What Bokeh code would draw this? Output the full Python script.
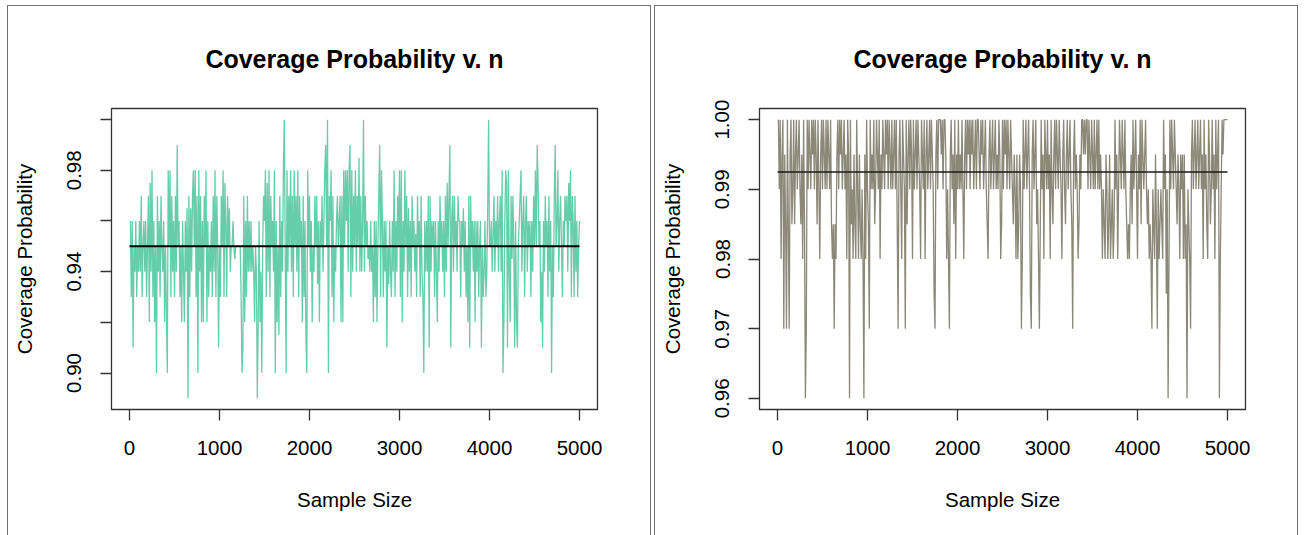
from bokeh.plotting import figure
from bokeh.layouts import row
from bokeh.models import Range1d, FixedTicker
from bokeh.embed import file_html
from bokeh.resources import INLINE

title_text = "Coverage Probability v. n"
x_label = "Sample Size"
y_label = "Coverage Probability"
x_ticks = [0, 1000, 2000, 3000, 4000, 5000]
left_y_ticks = [0.90, 0.92, 0.94, 0.96, 0.98, 1.00]
left_y_labels = {0.90: "0.90", 0.92: "", 0.94: "0.94", 0.96: "", 0.98: "0.98", 1.00: ""}
right_y_ticks = [0.96, 0.97, 0.98, 0.99, 1.00]
right_y_labels = {0.96: "0.96", 0.97: "0.97", 0.98: "0.98", 0.99: "0.99", 1.00: "1.00"}

# left panel: coverage probability (percent), n = 10, 20, ..., 5000
left_cov_pct = [
    96, 93, 96, 91, 95, 94, 96, 93, 95, 94,
    96, 94, 97, 93, 95, 96, 94, 96, 93, 95,
    97, 92, 97.5, 94, 98, 93, 96, 92, 95, 90,
    97, 94, 96, 93, 97, 95, 94, 96, 92, 95,
    92.5, 90, 98, 95, 98, 93, 97, 94, 96, 93,
    97, 94, 99, 95, 96, 93, 95, 92, 96, 94,
    92, 96, 94, 96.5, 89, 97, 93, 96.5, 94, 97,
    98, 95, 98, 93, 97, 90, 98, 94, 97, 92,
    96, 92, 97, 95, 98, 92, 96, 93, 95, 94,
    96, 93, 97, 94, 98, 93, 97, 95, 91, 95,
    93, 97, 95, 98, 93, 97.5, 96, 93, 97, 95,
    96.5, 94, 95, 95, 96, 95, 94.5, 95, 95, 95,
    95, 95, 95, 93, 90, 91, 97, 92, 96, 93,
    97, 94, 96, 94, 96, 94, 95, 94, 92, 95,
    94, 89, 92, 96, 92, 94, 90, 95, 97, 96,
    98, 93, 97.5, 94, 98, 93, 97, 95, 96, 94,
    98, 90, 96, 92, 95, 91.5, 97, 93, 96, 94,
    98, 100, 95, 90, 98, 94, 97, 95, 98, 94,
    97, 93, 98, 95, 97, 94, 98, 93, 97, 95,
    96, 92, 97, 93, 96, 91.5, 90, 98, 95, 97,
    94, 96, 92, 95, 94, 97, 95, 97, 93.5, 96,
    92, 96, 95, 97, 94, 96, 98, 99, 95, 100,
    90, 97, 96, 98, 93, 97, 92, 95, 94, 96,
    97, 95, 96, 97, 92, 97, 92, 98, 95, 98,
    96, 98, 94, 98, 99, 93, 98, 94, 97, 95,
    98, 94, 97, 95, 98.5, 94, 97, 94, 96, 100,
    94, 97, 95, 96, 94.5, 95, 94, 96, 94, 95,
    92, 96, 93, 96, 92, 95, 97, 99, 93, 98,
    96, 93, 96, 94, 96, 91, 95, 93.5, 96, 94,
    93, 96, 94, 98, 93, 96, 94, 97, 95, 98,
    93, 98, 92, 96, 94, 98, 95, 97, 93, 96.5,
    94, 96, 93, 97, 95, 96, 94, 95.5, 93, 97,
    95, 96, 93, 97, 94, 93, 90, 96, 94, 96,
    94, 97, 91, 97, 94, 96, 95, 96, 93, 96,
    94, 92, 96, 94, 97, 95, 96, 94, 96, 93,
    97, 94, 97.5, 95, 97, 99, 91, 96, 97, 94,
    97, 95, 96, 94, 97, 96, 96, 93, 96, 95,
    96.5, 94, 96, 93, 95, 92, 97, 91, 97, 95,
    96, 94, 96, 92, 96, 94, 96, 93, 95, 96,
    91, 95, 93, 94, 96, 93, 94, 96.5, 100, 95,
    95, 96, 94, 95.5, 97, 94, 96, 95, 97, 94,
    96, 97, 94, 98, 90, 92, 96, 98, 97.5, 91,
    98, 94, 92, 97, 94.5, 97, 95, 91, 96, 92,
    91, 95, 96, 97, 98, 94, 96, 97, 93, 96,
    97, 94, 96, 95, 96, 93, 96, 94, 97, 95,
    98, 95, 99, 97.5, 95, 96, 92, 94, 91, 96,
    94, 97, 95, 96, 93, 97, 94, 96, 90, 95,
    93, 97, 99, 95, 96, 98, 94, 96, 97, 95,
    93, 96, 95, 97, 96, 97, 94, 97.5, 96, 98,
    93, 97, 96, 93, 97, 94, 96, 93, 95, 96,
]

# right panel: coverage probability (per mille), n = 10, 20, ..., 5000
right_cov_pm = [
    1000, 990, 1000, 980, 995, 1000, 970, 995, 985, 970,
    1000, 985, 970, 995, 1000, 985, 990, 1000, 985, 995,
    1000, 990, 995, 1000, 990, 985, 995, 980, 1000, 985,
    960, 970, 1000, 990, 1000, 995, 990, 1000, 995, 1000,
    990, 1000, 995, 985, 1000, 990, 980, 995, 1000, 990,
    1000, 995, 990, 1000, 990, 1000, 995, 990, 1000, 985,
    980, 985, 970, 985, 980, 995, 1000, 990, 1000, 995,
    1000, 990, 995, 1000, 990, 995, 980, 1000, 995, 960,
    1000, 985, 990, 980, 995, 985, 980, 1000, 990, 980,
    995, 985, 980, 990, 980, 960, 995, 980, 1000, 990,
    985, 970, 1000, 990, 995, 990, 1000, 985, 990, 1000,
    995, 990, 1000, 980, 995, 990, 1000, 995, 990, 1000,
    995, 1000, 990, 1000, 995, 990, 1000, 990, 995, 1000,
    990, 1000, 985, 970, 995, 1000, 990, 980, 1000, 995,
    990, 970, 1000, 985, 995, 1000, 990, 1000, 995, 980,
    1000, 990, 995, 1000, 990, 1000, 995, 990, 980, 1000,
    995, 990, 1000, 980, 995, 1000, 990, 995, 1000, 990,
    1000, 995, 990, 975, 970, 995, 1000, 990, 1000, 1000,
    1000, 995, 1000, 990, 1000, 1000, 995, 980, 990, 980,
    970, 995, 1000, 990, 995, 985, 1000, 980, 995, 990,
    1000, 990, 995, 990, 1000, 990, 980, 995, 1000, 990,
    1000, 995, 1000, 990, 1000, 995, 1000, 990, 995, 1000,
    990, 1000, 1000, 995, 990, 1000, 995, 1000, 990, 995,
    1000, 990, 985, 980, 995, 1000, 990, 995, 1000, 990,
    995, 1000, 990, 995, 990, 1000, 995, 980, 985, 1000,
    990, 1000, 995, 1000, 990, 1000, 995, 990, 1000, 995,
    990, 985, 995, 990, 980, 995, 980, 985, 995, 990,
    970, 980, 1000, 990, 995, 1000, 990, 995, 1000, 990,
    975, 970, 995, 1000, 990, 995, 1000, 985, 990, 980,
    970, 985, 1000, 990, 995, 980, 1000, 995, 990, 1000,
    990, 995, 980, 1000, 990, 985, 995, 1000, 990, 1000,
    995, 990, 1000, 995, 990, 980, 995, 1000, 990, 985,
    995, 1000, 990, 995, 1000, 990, 985, 970, 995, 1000,
    990, 995, 990, 980, 985, 995, 990, 1000, 1000, 995,
    1000, 995, 1000, 1000, 990, 1000, 995, 990, 1000, 995,
    990, 1000, 990, 995, 1000, 990, 1000, 990, 995, 990,
    980, 990, 985, 980, 995, 990, 980, 985, 995, 980,
    985, 990, 980, 985, 1000, 990, 995, 980, 990, 1000,
    995, 990, 1000, 995, 990, 1000, 990, 985, 980, 985,
    980, 990, 995, 985, 1000, 990, 995, 1000, 990, 980,
    995, 990, 1000, 985, 1000, 995, 990, 995, 1000, 990,
    985, 990, 980, 985, 980, 970, 990, 985, 980, 995,
    985, 970, 990, 980, 985, 990, 985, 980, 1000, 990,
    995, 975, 990, 960, 980, 1000, 990, 1000, 995, 990,
    1000, 995, 990, 985, 995, 990, 980, 995, 990, 995,
    980, 995, 980, 985, 960, 990, 985, 980, 970, 995,
    1000, 990, 995, 1000, 990, 995, 1000, 990, 995, 1000,
    990, 995, 980, 1000, 990, 995, 985, 980, 1000, 995,
    985, 990, 1000, 990, 995, 980, 1000, 990, 995, 1000,
    960, 980, 990, 1000, 995, 1000, 1000, 1000, 1000, 1000,
]

left_target = 0.95
right_mean = 0.9925
line_span = [0, 5000]
n_step = 10

left_color = "#66CDAA"
right_color = "#8B8878"

FONT = "Liberation Sans"
AX = "#333333"


def make_panel(width, borders, y_lo, y_hi, y_ticks, y_labels, title_standoff):
    bl, br, bt, bb = borders
    p = figure(width=width, height=530, x_range=Range1d(-200, 5200),
               y_range=Range1d(y_lo, y_hi), output_backend="svg",
               toolbar_location=None, min_border_left=bl, min_border_right=br,
               min_border_top=bt, min_border_bottom=bb)
    p.border_fill_color = None
    p.background_fill_color = "white"
    p.styles = {"box-shadow": "inset 1px 1px 0 0 #707070, inset -1px 0 0 0 #707070"}
    p.outline_line_color = AX
    p.outline_line_width = 1.3
    p.xgrid.visible = False
    p.ygrid.visible = False
    p.title.text = title_text
    p.title.text_font = FONT
    p.title.text_font_size = "25px"
    p.title.text_font_style = "bold"
    p.title.text_color = "black"
    p.title.align = "center"
    p.title.standoff = title_standoff
    for ax in (p.xaxis[0], p.yaxis[0]):
        ax.axis_line_color = AX
        ax.major_tick_line_color = AX
        ax.major_tick_line_width = 1.3
        ax.major_tick_out = 11
        ax.major_tick_in = 0
        ax.minor_tick_line_color = None
        ax.major_label_text_font = FONT
        ax.major_label_text_font_size = "20.5px"
        ax.major_label_text_color = "black"
        ax.axis_label_text_font = FONT
        ax.axis_label_text_font_size = "20.5px"
        ax.axis_label_text_font_style = "normal"
        ax.axis_label_text_color = "black"
    xa = p.xaxis[0]
    xa.ticker = FixedTicker(ticks=x_ticks)
    xa.axis_label = x_label
    xa.major_label_standoff = 20
    xa.axis_label_standoff = 30
    ya = p.yaxis[0]
    ya.ticker = FixedTicker(ticks=y_ticks)
    ya.major_label_overrides = y_labels
    ya.major_label_orientation = "parallel"
    ya.axis_label = y_label
    ya.major_label_standoff = 19
    ya.axis_label_standoff = 29
    return p


left_vals = [v / 100 for v in left_cov_pct]
right_vals = [v / 1000 for v in right_cov_pm]
left_n = [n_step * (i + 1) for i in range(len(left_vals))]
right_n = [n_step * (i + 1) for i in range(len(right_vals))]

p1 = make_panel(644, (104, 54, 102, 125), 0.8856, 1.0044, left_y_ticks, left_y_labels, 71)
p1.line(left_n, left_vals, line_color=left_color, line_width=1.3)
p1.line(line_span, [left_target, left_target], line_color="black", line_width=2)

p2 = make_panel(644, (105, 53, 103, 126), 0.9584, 1.0016, right_y_ticks, right_y_labels, 72)
p2.line(right_n, right_vals, line_color=right_color, line_width=1.3)
p2.line(line_span, [right_mean, right_mean], line_color="#1a1a1a", line_width=1.5)

layout = row(p1, p2, spacing=3)
layout.margin = (5, 0, 0, 7)
open("out.html", "w").write(file_html(layout, INLINE))
